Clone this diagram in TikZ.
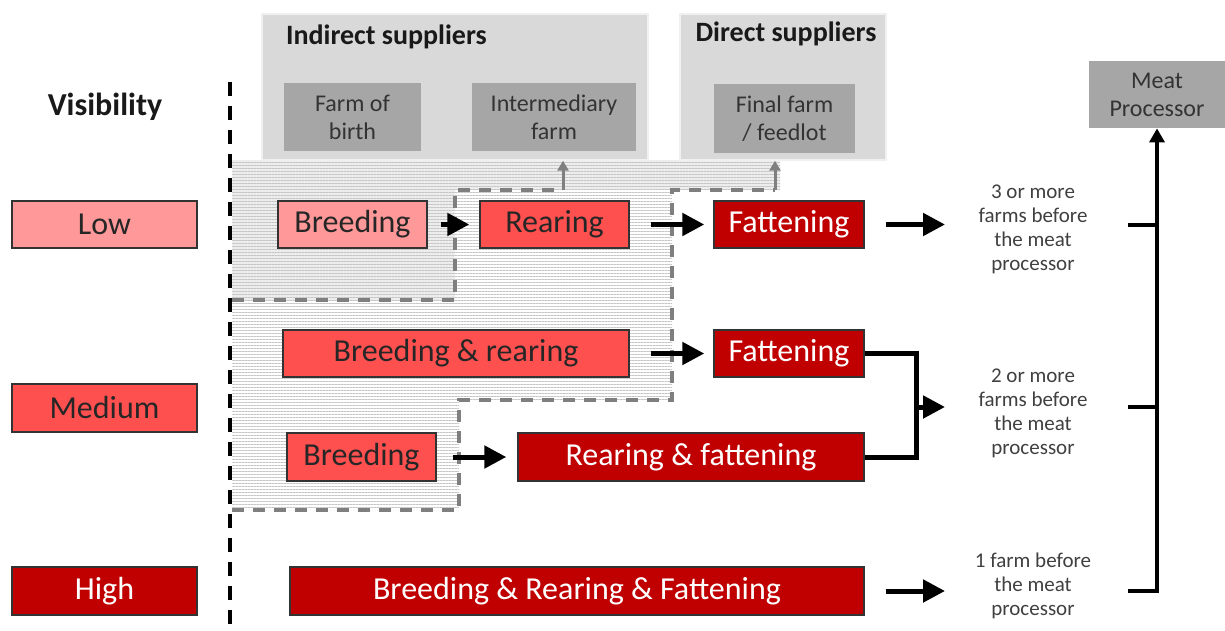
\documentclass[tikz,border=0pt]{standalone}
\usepackage{fontspec}
\setmainfont{Carlito}
\usetikzlibrary{positioning, calc, arrows.meta, patterns.meta}
\definecolor{lowred}{HTML}{FF9999}
\definecolor{midred}{HTML}{FF5050}
\definecolor{highred}{HTML}{C00000}
\definecolor{boxgray}{HTML}{D9D9D9}
\definecolor{farmgray}{HTML}{A6A6A6}
\definecolor{txtgray}{HTML}{404040}
\definecolor{dashgray}{HTML}{7F7F7F}
\tikzstyle{Stage} = [
draw=black!80, line width=0.7pt, inner sep=0pt,
minimum height=23.5pt, text=black!85,
font=\fontsize{16}{19}\selectfont]
\tikzstyle{Supplier} = [fill=boxgray, draw=black!6, line width=0.7pt,
minimum width=193pt, minimum height=73pt]
\tikzstyle{Farm} = [fill=farmgray, inner sep=0pt, align=center,
text=black!80, minimum height=34pt, font=\fontsize{12}{14}\selectfont]
\tikzstyle{Note} = [align=center, text=txtgray,
font=\fontsize{10.5}{12}\selectfont]
\tikzstyle{Arrow} = [line width=2.5pt, -{Triangle[length=11pt,width=11pt]}]
\tikzstyle{Bracket} = [line width=2.5pt]
\tikzstyle{Link} = [line width=2pt, -{Triangle[length=7pt,width=7.5pt]}]
\tikzstyle{Feed} = [dashgray, line width=1.5pt,
-{Triangle[length=5pt,width=5.5pt]}]
\tikzstyle{Border} = [dashgray, line width=2pt, dash pattern=on 6pt off 4.5pt]
\tikzstyle{Hatch} = [pattern={Lines[angle=0,distance=1.5pt,line width=0.5pt]},
pattern color=gray!45]

\begin{document}
\begin{tikzpicture}[x=0.5pt, y=-0.5pt]
    \useasboundingbox (0,0) rectangle (1225,631);
    \fill[gray!14] (232,160) -- (780,160) -- (780,190) -- (455,190)
        -- (455,300) -- (232,300) -- cycle;
    \fill[Hatch] (232,160) -- (780,160) -- (780,190) -- (455,190)
        -- (455,300) -- (232,300) -- cycle;
    \fill[Hatch] (455,190) -- (672,190) -- (672,400) -- (459,400)
        -- (459,510) -- (232,510) -- (232,300) -- (455,300) -- cycle;
    \draw[Border] (232,300) -- (455,300) -- (455,190) -- (563,190);
    \draw[Border] (232,510) -- (459,510) -- (459,400) -- (672,400)
        -- (672,190) -- (775,190);
    \draw[line width=2pt, dash pattern=on 7pt off 5pt] (230,82) -- (230,631);

    \node [font=\fontsize{16}{19}\selectfont\bfseries, text=black!90] (0) at (105,107) {Visibility};
    \node [Stage, fill=lowred, minimum width=92.5pt] (1) at (104.5,224.5) {Low};
    \node [Stage, fill=midred, minimum width=92.5pt, minimum height=24pt] (2) at (104.5,408) {Medium};
    \node [Stage, fill=highred, text=white, minimum width=92.5pt, minimum height=24pt] (3) at (104.5,591) {High};

    \node [Supplier] (4) at (455,87) {};
    \node [anchor=west, font=\fontsize{14}{17}\selectfont\bfseries, text=black!90] (5) at (279,37) {Indirect suppliers};
    \node [Farm, minimum width=68.5pt] (6) at (352.5,117) {Farm of\\birth};
    \node [Farm, minimum width=82pt] (7) at (554,117) {Intermediary\\farm};
    \node [Supplier, minimum width=103pt] (8) at (783,87) {};
    \node [font=\fontsize{14}{17}\selectfont\bfseries, text=black!90] (9) at (786,34) {Direct suppliers};
    \node [Farm, minimum width=70.5pt, minimum height=34.5pt] (10) at (784.5,118.5) {Final farm\\/ feedlot};
    \node [Farm, minimum width=68pt, minimum height=33.5pt] (11) at (1157,94.5) {Meat\\Processor};

    \node [Stage, fill=lowred, minimum width=74.5pt] (12) at (352.5,224.5) {Breeding};
    \node [Stage, fill=midred, minimum width=74.5pt] (13) at (554.5,224.5) {Rearing};
    \node [Stage, fill=highred, text=white, minimum width=75pt] (14) at (789,224.5) {Fattening};
    \node [Stage, fill=midred, minimum width=173pt] (15) at (456,353.5) {Breeding \& rearing};
    \node [Stage, fill=highred, text=white, minimum width=75pt] (16) at (789,353.5) {Fattening};
    \node [Stage, fill=midred, minimum width=74.5pt, minimum height=24pt] (17) at (361.5,457) {Breeding};
    \node [Stage, fill=highred, text=white, minimum width=173pt, minimum height=24pt] (18) at (691,457) {Rearing \& fattening};
    \node [Stage, fill=highred, text=white, minimum width=287pt, minimum height=24pt] (19) at (577,591) {Breeding \& Rearing \& Fattening};

    \node [Note] (20) at (1033,229) {3 or more\\farms before\\the meat\\processor};
    \node [Note] (21) at (1033,413) {2 or more\\farms before\\the meat\\processor};
    \node [Note] (22) at (1033,586) {1 farm before\\the meat\\processor};

    \coordinate (23) at (945,224.5);
    \coordinate (24) at (916,407);
    \coordinate (25) at (945,407);
    \coordinate (26) at (945,591);
    \coordinate (27) at (1128,225);
    \coordinate (28) at (1128,407);
    \coordinate (29) at (1128,591);
    \coordinate (30) at (563,190);
    \coordinate (31) at (775,190);

    \draw[Feed] (30) -- (30 |- 4.south);
    \draw[Feed] (31) -- (31 |- 8.south);
    \draw[Arrow, shorten <=6.5pt, shorten >=5pt] (12.east) -- (13.west);
    \draw[Arrow, shorten <=10.5pt, shorten >=4.5pt] (13.east) -- (14.west);
    \draw[Arrow, shorten <=10.5pt] (14.east) -- (23);
    \draw[Arrow, shorten <=10.5pt, shorten >=4.5pt] (15.east) -- (16.west);
    \draw[Arrow, shorten <=8pt, shorten >=5.5pt] (17.east) -- (18.west);
    \draw[Bracket] (16.east) -| (24) |- (18.east);
    \draw[Arrow] (24) -- (25);
    \draw[Arrow, shorten <=10.5pt] (19.east) -- (26);
    \draw[Bracket, line width=2pt] (27) -- (27 -| 11.south);
    \draw[Bracket, line width=2pt] (28) -- (28 -| 11.south);
    \draw[Link] (29) -| (11.south);
\end{tikzpicture}
\end{document}
